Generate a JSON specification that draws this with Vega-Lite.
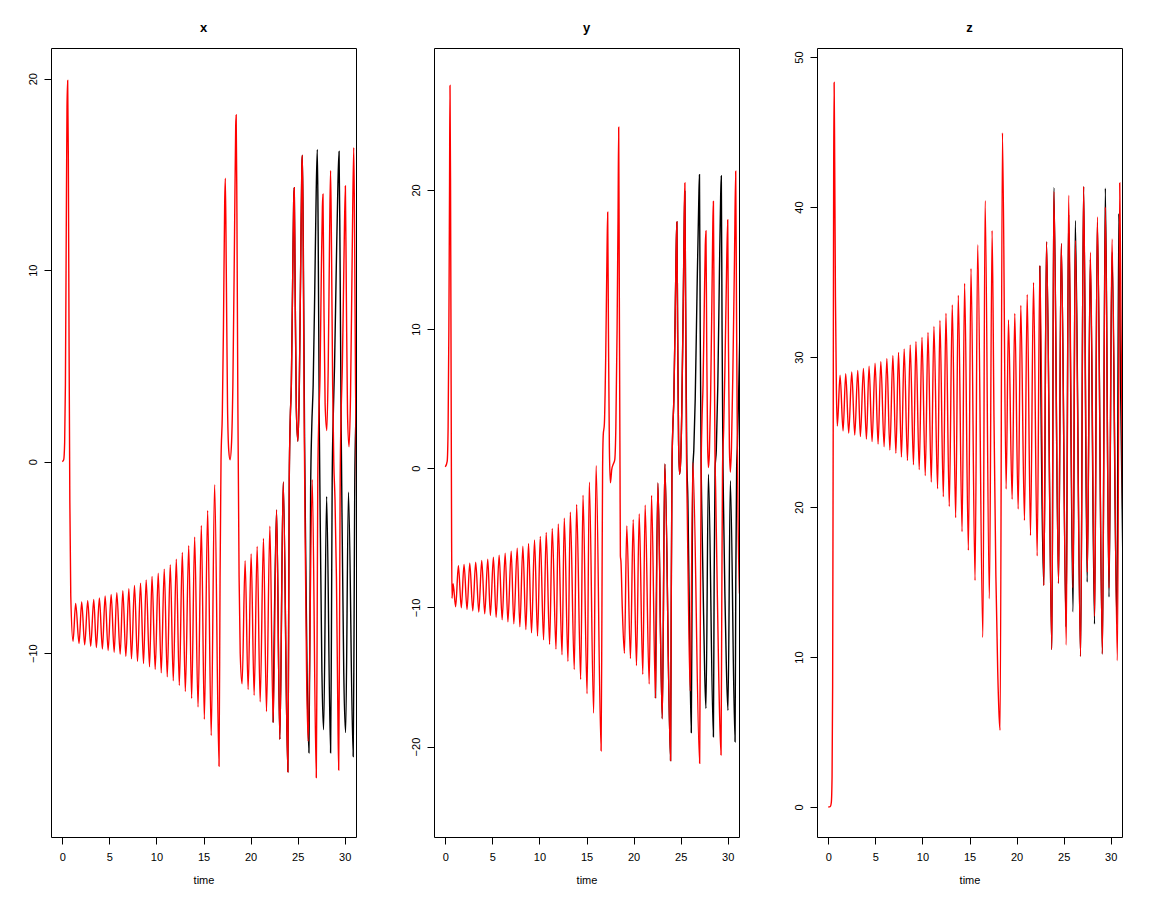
{
"$schema":"https://vega.github.io/schema/vega-lite/v6.json",
"background":"white",
"padding":{"left":26,"top":21,"right":5,"bottom":5},
"spacing":78,
"bounds":"flush",
"config":{
 "view":{"stroke":"#000","strokeWidth":1},
 "font":"Liberation Sans",
 "axis":{"domain":false,"grid":false,"ticks":true,"tickColor":"#000","tickSize":7,"labelColor":"#000","labelFontSize":11,"labelPadding":6,"titleFontWeight":"normal","titleFontSize":11,"titleColor":"#000","labelFlush":false},
 "title":{"fontSize":13,"fontWeight":"bold","color":"#000","offset":13,"anchor":"middle"}
},
"datasets":{
"x":[
{"t":0,"v":0,"s":"r"},{"t":0.15,"v":0.1,"s":"r"},{"t":0.25,"v":1,"s":"r"},{"t":0.33,"v":4,"s":"r"},{"t":0.42,"v":12,"s":"r"},{"t":0.5,"v":18.5,"s":"r"},{"t":0.57,"v":19.9,"s":"r"},{"t":0.64,"v":16,"s":"r"},{"t":0.72,"v":6,"s":"r"},{"t":0.8,"v":-2,"s":"r"},{"t":0.9,"v":-7,"s":"r"},
{"t":1.14,"v":-9.38,"s":"r"},{"t":1.42,"v":-7.41,"s":"r"},{"t":1.78,"v":-9.5,"s":"r"},{"t":2.06,"v":-7.33,"s":"r"},{"t":2.38,"v":-9.57,"s":"r"},{"t":2.7,"v":-7.26,"s":"r"},{"t":3.02,"v":-9.64,"s":"r"},{"t":3.34,"v":-7.19,"s":"r"},{"t":3.62,"v":-9.71,"s":"r"},{"t":3.94,"v":-7.12,"s":"r"},{"t":4.26,"v":-9.79,"s":"r"},{"t":4.55,"v":-7.01,"s":"r"},{"t":4.87,"v":-9.86,"s":"r"},{"t":5.19,"v":-6.94,"s":"r"},{"t":5.51,"v":-9.95,"s":"r"},{"t":5.79,"v":-6.84,"s":"r"},{"t":6.15,"v":-10.05,"s":"r"},{"t":6.43,"v":-6.74,"s":"r"},{"t":6.75,"v":-10.17,"s":"r"},{"t":7.07,"v":-6.63,"s":"r"},{"t":7.35,"v":-10.3,"s":"r"},{"t":7.67,"v":-6.47,"s":"r"},{"t":7.99,"v":-10.43,"s":"r"},{"t":8.31,"v":-6.35,"s":"r"},{"t":8.63,"v":-10.54,"s":"r"},{"t":8.91,"v":-6.18,"s":"r"},{"t":9.27,"v":-10.71,"s":"r"},{"t":9.53,"v":-5.99,"s":"r"},{"t":9.87,"v":-10.85,"s":"r"},{"t":10.19,"v":-5.82,"s":"r"},{"t":10.51,"v":-11.02,"s":"r"},{"t":10.83,"v":-5.61,"s":"r"},{"t":11.15,"v":-11.23,"s":"r"},{"t":11.47,"v":-5.38,"s":"r"},{"t":11.79,"v":-11.44,"s":"r"},{"t":12.11,"v":-5.1,"s":"r"},{"t":12.43,"v":-11.68,"s":"r"},{"t":12.75,"v":-4.74,"s":"r"},{"t":13.07,"v":-12,"s":"r"},{"t":13.43,"v":-4.39,"s":"r"},{"t":13.74,"v":-12.36,"s":"r"},{"t":14.06,"v":-3.94,"s":"r"},{"t":14.42,"v":-12.81,"s":"r"},{"t":14.77,"v":-3.33,"s":"r"},{"t":15.09,"v":-13.45,"s":"r"},{"t":15.44,"v":-2.55,"s":"r"},{"t":15.82,"v":-14.3,"s":"r"},{"t":16.18,"v":-1.2,"s":"r"},{"t":16.65,"v":-15.9,"s":"r"},
{"t":16.76,"v":-6,"s":"r"},{"t":16.86,"v":0,"s":"r"},{"t":17.0,"v":2.5,"s":"r"},{"t":17.12,"v":7,"s":"r"},{"t":17.25,"v":13.5,"s":"r"},{"t":17.32,"v":14.8,"s":"r"},{"t":17.42,"v":10,"s":"r"},{"t":17.55,"v":3,"s":"r"},{"t":17.68,"v":0.6,"s":"r"},{"t":17.82,"v":0.1,"s":"r"},{"t":17.98,"v":1,"s":"r"},{"t":18.12,"v":4,"s":"r"},{"t":18.3,"v":12,"s":"r"},{"t":18.42,"v":17.5,"s":"r"},{"t":18.47,"v":18.1,"s":"r"},{"t":18.55,"v":13,"s":"r"},{"t":18.65,"v":3,"s":"r"},{"t":18.78,"v":-6,"s":"r"},{"t":18.9,"v":-10,"s":"r"},
{"t":19.1,"v":-11.6,"s":"r"},{"t":19.42,"v":-5.17,"s":"r"},{"t":19.74,"v":-11.9,"s":"r"},{"t":20.06,"v":-4.82,"s":"r"},{"t":20.38,"v":-12.2,"s":"r"},{"t":20.7,"v":-4.43,"s":"r"},{"t":21.02,"v":-12.54,"s":"r"},{"t":21.37,"v":-4.01,"s":"r"},{"t":21.69,"v":-13.05,"s":"r"},{"t":22.05,"v":-3.37,"s":"r"},{"t":22.4,"v":-13.62,"s":"r"},{"t":22.76,"v":-2.52,"s":"r"},{"t":23.11,"v":-14.5,"s":"r"},{"t":23.47,"v":-1.06,"s":"r"},{"t":23.96,"v":-16.2,"s":"r"},
{"t":24.04,"v":-9,"s":"r"},{"t":24.11,"v":-1,"s":"r"},{"t":24.22,"v":2.3,"s":"r"},{"t":24.33,"v":4,"s":"r"},{"t":24.46,"v":9,"s":"r"},{"t":24.58,"v":13.6,"s":"r"},{"t":24.64,"v":14.3,"s":"r"},{"t":24.72,"v":10,"s":"r"},{"t":24.86,"v":2.8,"s":"r"},{"t":25.03,"v":1.06,"s":"r"},{"t":25.18,"v":4,"s":"r"},{"t":25.33,"v":10.5,"s":"r"},{"t":25.45,"v":15.5,"s":"r"},{"t":25.5,"v":16,"s":"r"},
{"t":25.58,"v":12,"s":"r"},{"t":25.7,"v":2,"s":"r"},{"t":25.8,"v":-4,"s":"r"},{"t":25.95,"v":-11,"s":"r"},{"t":26.12,"v":-14.6,"s":"r"},{"t":26.55,"v":-0.94,"s":"r"},{"t":26.98,"v":-16.5,"s":"r"},{"t":27.07,"v":-9,"s":"r"},{"t":27.14,"v":-1,"s":"r"},{"t":27.25,"v":2.3,"s":"r"},{"t":27.38,"v":4.5,"s":"r"},{"t":27.52,"v":10,"s":"r"},{"t":27.63,"v":13.3,"s":"r"},{"t":27.69,"v":13.96,"s":"r"},{"t":27.78,"v":9,"s":"r"},{"t":27.92,"v":3,"s":"r"},{"t":28.1,"v":1.63,"s":"r"},{"t":28.25,"v":5,"s":"r"},{"t":28.4,"v":12,"s":"r"},{"t":28.5,"v":15.2,"s":"r"},{"t":28.6,"v":11,"s":"r"},{"t":28.72,"v":4,"s":"r"},{"t":28.84,"v":0,"s":"r"},{"t":28.97,"v":-2,"s":"r"},{"t":29.12,"v":-6,"s":"r"},{"t":29.26,"v":-12.5,"s":"r"},{"t":29.36,"v":-16.1,"s":"r"},{"t":29.45,"v":-9,"s":"r"},{"t":29.52,"v":-1,"s":"r"},{"t":29.62,"v":2.5,"s":"r"},{"t":29.75,"v":5,"s":"r"},{"t":29.92,"v":10.5,"s":"r"},{"t":30.07,"v":14.4,"s":"r"},{"t":30.17,"v":9,"s":"r"},{"t":30.3,"v":2.5,"s":"r"},{"t":30.46,"v":0.78,"s":"r"},{"t":30.62,"v":3.5,"s":"r"},{"t":30.8,"v":11,"s":"r"},{"t":30.96,"v":16.4,"s":"r"},{"t":31.05,"v":12,"s":"r"},{"t":31.15,"v":4,"s":"r"},{"t":31.3,"v":-3,"s":"r"},
{"t":22.4,"v":-13.62,"s":"b"},{"t":22.76,"v":-2.52,"s":"b"},{"t":23.11,"v":-14.5,"s":"b"},{"t":23.47,"v":-1.06,"s":"b"},{"t":23.96,"v":-16.2,"s":"b"},{"t":24.04,"v":-9,"s":"b"},{"t":24.11,"v":-1,"s":"b"},{"t":24.22,"v":2.3,"s":"b"},{"t":24.33,"v":4,"s":"b"},{"t":24.46,"v":9,"s":"b"},{"t":24.58,"v":13.6,"s":"b"},{"t":24.64,"v":14.3,"s":"b"},{"t":24.72,"v":10,"s":"b"},{"t":24.86,"v":2.8,"s":"b"},{"t":25.03,"v":1.06,"s":"b"},{"t":25.18,"v":4,"s":"b"},{"t":25.33,"v":10.5,"s":"b"},{"t":25.45,"v":15.5,"s":"b"},{"t":25.5,"v":16,"s":"b"},{"t":25.6,"v":11.5,"s":"b"},{"t":25.74,"v":1,"s":"b"},{"t":25.84,"v":-4,"s":"b"},{"t":26.0,"v":-11,"s":"b"},{"t":26.2,"v":-15.2,"s":"b"},{"t":26.3,"v":-9,"s":"b"},{"t":26.38,"v":-1.5,"s":"b"},{"t":26.5,"v":1.8,"s":"b"},{"t":26.65,"v":4,"s":"b"},{"t":26.82,"v":9,"s":"b"},{"t":26.97,"v":14,"s":"b"},{"t":27.09,"v":16.3,"s":"b"},{"t":27.18,"v":12,"s":"b"},{"t":27.3,"v":2,"s":"b"},{"t":27.42,"v":-4,"s":"b"},{"t":27.58,"v":-11,"s":"b"},{"t":27.76,"v":-14,"s":"b"},{"t":28.08,"v":-1.82,"s":"b"},{"t":28.5,"v":-15.2,"s":"b"},{"t":28.59,"v":-9,"s":"b"},{"t":28.67,"v":-1,"s":"b"},{"t":28.78,"v":2.3,"s":"b"},{"t":28.92,"v":5,"s":"b"},{"t":29.1,"v":10,"s":"b"},{"t":29.28,"v":14.5,"s":"b"},{"t":29.4,"v":16.2,"s":"b"},{"t":29.5,"v":11,"s":"b"},{"t":29.62,"v":2,"s":"b"},{"t":29.74,"v":-4,"s":"b"},{"t":29.9,"v":-11,"s":"b"},{"t":30.1,"v":-14.15,"s":"b"},{"t":30.4,"v":-1.6,"s":"b"},{"t":30.9,"v":-15.4,"s":"b"},{"t":30.99,"v":-9,"s":"b"},{"t":31.07,"v":-1,"s":"b"},{"t":31.2,"v":2.5,"s":"b"},{"t":31.35,"v":5,"s":"b"}
],
"y":[
{"t":0,"v":0.1,"s":"r"},{"t":0.2,"v":0.5,"s":"r"},{"t":0.3,"v":3,"s":"r"},{"t":0.38,"v":10,"s":"r"},{"t":0.45,"v":20,"s":"r"},{"t":0.5,"v":27.5,"s":"r"},{"t":0.56,"v":20,"s":"r"},{"t":0.62,"v":6,"s":"r"},{"t":0.67,"v":-5,"s":"r"},{"t":0.71,"v":-9.35,"s":"r"},{"t":0.83,"v":-8.3,"s":"r"},
{"t":1.1,"v":-9.96,"s":"r"},{"t":1.39,"v":-7.01,"s":"r"},{"t":1.7,"v":-10.03,"s":"r"},{"t":1.99,"v":-6.92,"s":"r"},{"t":2.31,"v":-10.15,"s":"r"},{"t":2.6,"v":-6.82,"s":"r"},{"t":2.92,"v":-10.25,"s":"r"},{"t":3.23,"v":-6.75,"s":"r"},{"t":3.56,"v":-10.34,"s":"r"},{"t":3.87,"v":-6.63,"s":"r"},{"t":4.19,"v":-10.46,"s":"r"},{"t":4.51,"v":-6.54,"s":"r"},{"t":4.79,"v":-10.58,"s":"r"},{"t":5.11,"v":-6.39,"s":"r"},{"t":5.4,"v":-10.72,"s":"r"},{"t":5.72,"v":-6.25,"s":"r"},{"t":6.04,"v":-10.89,"s":"r"},{"t":6.36,"v":-6.1,"s":"r"},{"t":6.65,"v":-11.04,"s":"r"},{"t":7.0,"v":-5.96,"s":"r"},{"t":7.28,"v":-11.18,"s":"r"},{"t":7.64,"v":-5.75,"s":"r"},{"t":7.92,"v":-11.4,"s":"r"},{"t":8.24,"v":-5.6,"s":"r"},{"t":8.56,"v":-11.59,"s":"r"},{"t":8.84,"v":-5.41,"s":"r"},{"t":9.16,"v":-11.83,"s":"r"},{"t":9.48,"v":-5.15,"s":"r"},{"t":9.8,"v":-12.06,"s":"r"},{"t":10.09,"v":-4.91,"s":"r"},{"t":10.44,"v":-12.33,"s":"r"},{"t":10.72,"v":-4.62,"s":"r"},{"t":11.08,"v":-12.66,"s":"r"},{"t":11.36,"v":-4.33,"s":"r"},{"t":11.76,"v":-13,"s":"r"},{"t":12.0,"v":-4,"s":"r"},{"t":12.4,"v":-13.4,"s":"r"},{"t":12.64,"v":-3.59,"s":"r"},{"t":13.03,"v":-13.88,"s":"r"},{"t":13.28,"v":-3.16,"s":"r"},{"t":13.7,"v":-14.46,"s":"r"},{"t":13.95,"v":-2.61,"s":"r"},{"t":14.38,"v":-15.17,"s":"r"},{"t":14.63,"v":-1.94,"s":"r"},{"t":15.06,"v":-16.2,"s":"r"},{"t":15.3,"v":-1,"s":"r"},{"t":15.76,"v":-17.6,"s":"r"},{"t":16.02,"v":0.2,"s":"r"},{"t":16.55,"v":-20.3,"s":"r"},
{"t":16.64,"v":-10,"s":"r"},{"t":16.71,"v":0,"s":"r"},{"t":16.78,"v":2.4,"s":"r"},{"t":16.9,"v":3.2,"s":"r"},{"t":17.04,"v":8,"s":"r"},{"t":17.17,"v":15,"s":"r"},{"t":17.25,"v":18.4,"s":"r"},{"t":17.33,"v":10,"s":"r"},{"t":17.43,"v":1.5,"s":"r"},{"t":17.54,"v":-1.05,"s":"r"},{"t":17.68,"v":-0.1,"s":"r"},{"t":17.85,"v":0.3,"s":"r"},{"t":18.0,"v":0.6,"s":"r"},{"t":18.12,"v":3,"s":"r"},{"t":18.25,"v":10,"s":"r"},{"t":18.35,"v":18,"s":"r"},{"t":18.42,"v":24.5,"s":"r"},{"t":18.49,"v":12,"s":"r"},{"t":18.56,"v":0,"s":"r"},{"t":18.6,"v":-6.3,"s":"r"},{"t":18.66,"v":-6.7,"s":"r"},{"t":18.8,"v":-10,"s":"r"},
{"t":19.03,"v":-13.3,"s":"r"},{"t":19.28,"v":-4.14,"s":"r"},{"t":19.67,"v":-13.67,"s":"r"},{"t":19.96,"v":-3.7,"s":"r"},{"t":20.31,"v":-14.18,"s":"r"},{"t":20.6,"v":-3.28,"s":"r"},{"t":20.98,"v":-14.81,"s":"r"},{"t":21.23,"v":-2.65,"s":"r"},{"t":21.66,"v":-15.5,"s":"r"},{"t":21.91,"v":-1.95,"s":"r"},{"t":22.33,"v":-16.52,"s":"r"},{"t":22.58,"v":-1.05,"s":"r"},{"t":23.05,"v":-18,"s":"r"},{"t":23.32,"v":0.31,"s":"r"},{"t":23.93,"v":-21,"s":"r"},
{"t":24.0,"v":-10,"s":"r"},{"t":24.08,"v":0,"s":"r"},{"t":24.17,"v":2.9,"s":"r"},{"t":24.28,"v":5,"s":"r"},{"t":24.4,"v":10,"s":"r"},{"t":24.52,"v":15.5,"s":"r"},{"t":24.6,"v":17.7,"s":"r"},{"t":24.68,"v":10,"s":"r"},{"t":24.78,"v":2,"s":"r"},{"t":24.89,"v":-0.43,"s":"r"},{"t":25.0,"v":0.5,"s":"r"},{"t":25.12,"v":4,"s":"r"},{"t":25.28,"v":12,"s":"r"},{"t":25.38,"v":18,"s":"r"},{"t":25.45,"v":20.5,"s":"r"},
{"t":25.52,"v":12,"s":"r"},{"t":25.62,"v":1,"s":"r"},{"t":25.7,"v":-2.94,"s":"r"},{"t":25.82,"v":-9,"s":"r"},{"t":26.02,"v":-16,"s":"r"},{"t":26.3,"v":0.4,"s":"r"},{"t":27.02,"v":-21.2,"s":"r"},{"t":27.1,"v":-10,"s":"r"},{"t":27.18,"v":0,"s":"r"},{"t":27.26,"v":3.23,"s":"r"},{"t":27.38,"v":6,"s":"r"},{"t":27.52,"v":12,"s":"r"},{"t":27.62,"v":16,"s":"r"},{"t":27.69,"v":17.06,"s":"r"},{"t":27.77,"v":9,"s":"r"},{"t":27.86,"v":2,"s":"r"},{"t":27.95,"v":0.05,"s":"r"},{"t":28.05,"v":1,"s":"r"},{"t":28.18,"v":5,"s":"r"},{"t":28.32,"v":12,"s":"r"},{"t":28.42,"v":17.5,"s":"r"},{"t":28.48,"v":19.18,"s":"r"},{"t":28.56,"v":10,"s":"r"},{"t":28.65,"v":1,"s":"r"},{"t":28.72,"v":-1.54,"s":"r"},{"t":28.85,"v":-7,"s":"r"},{"t":29.05,"v":-15,"s":"r"},{"t":29.29,"v":-20.6,"s":"r"},{"t":29.37,"v":-10,"s":"r"},{"t":29.45,"v":0,"s":"r"},{"t":29.57,"v":2.76,"s":"r"},{"t":29.7,"v":7,"s":"r"},{"t":29.85,"v":13,"s":"r"},{"t":30.0,"v":17.85,"s":"r"},{"t":30.08,"v":9,"s":"r"},{"t":30.18,"v":1.5,"s":"r"},{"t":30.28,"v":-0.27,"s":"r"},{"t":30.4,"v":1.5,"s":"r"},{"t":30.55,"v":7,"s":"r"},{"t":30.72,"v":15,"s":"r"},{"t":30.85,"v":21.34,"s":"r"},{"t":30.93,"v":12,"s":"r"},{"t":31.02,"v":2,"s":"r"},{"t":31.1,"v":-3.6,"s":"r"},{"t":31.25,"v":-9,"s":"r"},
{"t":22.33,"v":-16.52,"s":"b"},{"t":22.58,"v":-1.05,"s":"b"},{"t":23.05,"v":-18,"s":"b"},{"t":23.32,"v":0.31,"s":"b"},{"t":23.93,"v":-21,"s":"b"},{"t":24.0,"v":-10,"s":"b"},{"t":24.08,"v":0,"s":"b"},{"t":24.17,"v":2.9,"s":"b"},{"t":24.28,"v":5,"s":"b"},{"t":24.4,"v":10,"s":"b"},{"t":24.52,"v":15.5,"s":"b"},{"t":24.6,"v":17.7,"s":"b"},{"t":24.68,"v":10,"s":"b"},{"t":24.78,"v":2,"s":"b"},{"t":24.89,"v":-0.43,"s":"b"},{"t":25.0,"v":0.5,"s":"b"},{"t":25.12,"v":4,"s":"b"},{"t":25.28,"v":12,"s":"b"},{"t":25.38,"v":17.5,"s":"b"},{"t":25.45,"v":19.9,"s":"b"},{"t":25.53,"v":12,"s":"b"},{"t":25.65,"v":1,"s":"b"},{"t":25.77,"v":-2.3,"s":"b"},{"t":25.9,"v":-9,"s":"b"},{"t":26.13,"v":-19,"s":"b"},{"t":26.22,"v":-8,"s":"b"},{"t":26.3,"v":0,"s":"b"},{"t":26.4,"v":1.32,"s":"b"},{"t":26.55,"v":5,"s":"b"},{"t":26.75,"v":13,"s":"b"},{"t":26.92,"v":19,"s":"b"},{"t":27.0,"v":21.1,"s":"b"},{"t":27.08,"v":10,"s":"b"},{"t":27.18,"v":0,"s":"b"},{"t":27.26,"v":-3.45,"s":"b"},{"t":27.4,"v":-9,"s":"b"},{"t":27.55,"v":-14.5,"s":"b"},{"t":27.69,"v":-17.26,"s":"b"},{"t":27.95,"v":-0.43,"s":"b"},{"t":28.48,"v":-19.3,"s":"b"},{"t":28.56,"v":-8,"s":"b"},{"t":28.66,"v":0,"s":"b"},{"t":28.79,"v":1.32,"s":"b"},{"t":28.95,"v":6,"s":"b"},{"t":29.12,"v":14,"s":"b"},{"t":29.25,"v":19.5,"s":"b"},{"t":29.32,"v":21,"s":"b"},{"t":29.4,"v":10,"s":"b"},{"t":29.5,"v":0,"s":"b"},{"t":29.57,"v":-3.28,"s":"b"},{"t":29.7,"v":-9,"s":"b"},{"t":29.85,"v":-14,"s":"b"},{"t":30.03,"v":-17.4,"s":"b"},{"t":30.28,"v":-0.9,"s":"b"},{"t":30.78,"v":-19.65,"s":"b"},{"t":30.86,"v":-8,"s":"b"},{"t":30.95,"v":0,"s":"b"},{"t":31.03,"v":1.65,"s":"b"},{"t":31.15,"v":5,"s":"b"},{"t":31.3,"v":10,"s":"b"}
],
"z":[
{"t":0,"v":0,"s":"r"},{"t":0.2,"v":0.02,"s":"r"},{"t":0.32,"v":0.3,"s":"r"},{"t":0.4,"v":2,"s":"r"},{"t":0.46,"v":8,"s":"r"},{"t":0.52,"v":25,"s":"r"},{"t":0.57,"v":42,"s":"r"},{"t":0.62,"v":48.3,"s":"r"},{"t":0.68,"v":43,"s":"r"},{"t":0.76,"v":34,"s":"r"},{"t":0.86,"v":27.8,"s":"r"},{"t":0.96,"v":25.4,"s":"r"},
{"t":1.25,"v":28.78,"s":"r"},{"t":1.57,"v":25.07,"s":"r"},{"t":1.85,"v":28.89,"s":"r"},{"t":2.17,"v":24.93,"s":"r"},{"t":2.49,"v":29,"s":"r"},{"t":2.81,"v":24.8,"s":"r"},{"t":3.13,"v":29.11,"s":"r"},{"t":3.41,"v":24.69,"s":"r"},{"t":3.73,"v":29.24,"s":"r"},{"t":4.05,"v":24.53,"s":"r"},{"t":4.33,"v":29.38,"s":"r"},{"t":4.65,"v":24.36,"s":"r"},{"t":4.97,"v":29.58,"s":"r"},{"t":5.29,"v":24.2,"s":"r"},{"t":5.58,"v":29.71,"s":"r"},{"t":5.93,"v":24.02,"s":"r"},{"t":6.22,"v":29.91,"s":"r"},{"t":6.54,"v":23.8,"s":"r"},{"t":6.86,"v":30.11,"s":"r"},{"t":7.18,"v":23.58,"s":"r"},{"t":7.46,"v":30.31,"s":"r"},{"t":7.77,"v":23.33,"s":"r"},{"t":8.06,"v":30.53,"s":"r"},{"t":8.41,"v":23.09,"s":"r"},{"t":8.7,"v":30.8,"s":"r"},{"t":9.05,"v":22.82,"s":"r"},{"t":9.31,"v":31.04,"s":"r"},{"t":9.66,"v":22.49,"s":"r"},{"t":9.95,"v":31.31,"s":"r"},{"t":10.3,"v":22.09,"s":"r"},{"t":10.59,"v":31.64,"s":"r"},{"t":10.94,"v":21.67,"s":"r"},{"t":11.22,"v":32.04,"s":"r"},{"t":11.61,"v":21.22,"s":"r"},{"t":11.86,"v":32.44,"s":"r"},{"t":12.22,"v":20.69,"s":"r"},{"t":12.5,"v":32.91,"s":"r"},{"t":12.85,"v":20.04,"s":"r"},{"t":13.17,"v":33.47,"s":"r"},{"t":13.53,"v":19.29,"s":"r"},{"t":13.81,"v":34.11,"s":"r"},{"t":14.21,"v":18.36,"s":"r"},{"t":14.48,"v":34.91,"s":"r"},{"t":14.88,"v":17.11,"s":"r"},{"t":15.16,"v":35.9,"s":"r"},{"t":15.59,"v":15.1,"s":"r"},{"t":15.87,"v":37.48,"s":"r"},{"t":16.42,"v":11.3,"s":"r"},{"t":16.66,"v":40.43,"s":"r"},{"t":17.11,"v":13.88,"s":"r"},{"t":17.4,"v":38.43,"s":"r"},{"t":17.6,"v":26,"s":"r"},{"t":17.8,"v":15.5,"s":"r"},{"t":18.0,"v":9,"s":"r"},{"t":18.15,"v":6,"s":"r"},{"t":18.25,"v":5.12,"s":"r"},{"t":18.5,"v":44.94,"s":"r"},{"t":18.89,"v":21.2,"s":"r"},{"t":19.14,"v":32.47,"s":"r"},{"t":19.53,"v":20.52,"s":"r"},{"t":19.81,"v":32.9,"s":"r"},{"t":20.17,"v":19.87,"s":"r"},{"t":20.45,"v":33.44,"s":"r"},{"t":20.84,"v":19.1,"s":"r"},{"t":21.13,"v":34.17,"s":"r"},{"t":21.48,"v":18.1,"s":"r"},{"t":21.8,"v":34.97,"s":"r"},{"t":22.19,"v":16.74,"s":"r"},{"t":22.47,"v":36.09,"s":"r"},{"t":22.9,"v":14.77,"s":"r"},{"t":23.18,"v":37.69,"s":"r"},{"t":23.75,"v":10.49,"s":"r"},{"t":23.96,"v":41.02,"s":"r"},{"t":24.46,"v":14.91,"s":"r"},{"t":24.75,"v":37.57,"s":"r"},{"t":25.28,"v":10.8,"s":"r"},{"t":25.53,"v":40.79,"s":"r"},{"t":26.0,"v":14.6,"s":"r"},{"t":26.24,"v":37.77,"s":"r"},{"t":26.8,"v":10.04,"s":"r"},{"t":27.12,"v":41.37,"s":"r"},{"t":27.52,"v":15.65,"s":"r"},{"t":27.84,"v":36.98,"s":"r"},{"t":28.3,"v":12.7,"s":"r"},{"t":28.58,"v":39.34,"s":"r"},{"t":29.12,"v":10.2,"s":"r"},{"t":29.43,"v":40,"s":"r"},{"t":29.82,"v":14.6,"s":"r"},{"t":30.14,"v":37.87,"s":"r"},{"t":30.71,"v":9.75,"s":"r"},{"t":30.96,"v":41.6,"s":"r"},{"t":31.1,"v":32,"s":"r"},{"t":31.3,"v":18,"s":"r"},
{"t":22.47,"v":36.09,"s":"b"},{"t":22.9,"v":14.77,"s":"b"},{"t":23.18,"v":37.69,"s":"b"},{"t":23.75,"v":10.49,"s":"b"},{"t":23.96,"v":41.3,"s":"b"},{"t":24.46,"v":14.91,"s":"b"},{"t":24.75,"v":37.57,"s":"b"},{"t":25.26,"v":12,"s":"b"},{"t":25.53,"v":39.5,"s":"b"},{"t":26.0,"v":13,"s":"b"},{"t":26.24,"v":39.1,"s":"b"},{"t":26.8,"v":10.04,"s":"b"},{"t":27.12,"v":41.37,"s":"b"},{"t":27.5,"v":15,"s":"b"},{"t":27.84,"v":36.5,"s":"b"},{"t":28.28,"v":12.2,"s":"b"},{"t":28.58,"v":39,"s":"b"},{"t":29.12,"v":10.2,"s":"b"},{"t":29.43,"v":41.25,"s":"b"},{"t":29.82,"v":14,"s":"b"},{"t":30.14,"v":37,"s":"b"},{"t":30.66,"v":12.2,"s":"b"},{"t":30.86,"v":39.55,"s":"b"},{"t":31.05,"v":28,"s":"b"},{"t":31.3,"v":16,"s":"b"}
]
},
"hconcat":[
{"width":305,"height":789,"title":"x","data":{"name":"x"},
 "encoding":{
  "x":{"field":"t","type":"quantitative","scale":{"domain":[-1.2,31.2],"nice":false,"zero":false},"axis":{"values":[0,5,10,15,20,25,30],"title":"time","labelPadding":7,"titlePadding":12}},
  "y":{"field":"v","type":"quantitative","scale":{"domain":[-19.6,21.6],"nice":false,"zero":false},"axis":{"values":[-10,0,10,20],"title":null,"labelAngle":-90,"labelAlign":"center","labelBaseline":"bottom"}}},
 "layer":[
  {"transform":[{"filter":"datum.s == 'b'"}],"mark":{"type":"line","color":"#000000","strokeWidth":1.4,"interpolate":"monotone","clip":true}},
  {"transform":[{"filter":"datum.s == 'r'"}],"mark":{"type":"line","color":"#ff0000","strokeWidth":1.4,"interpolate":"monotone","clip":true}}]},
{"width":305,"height":789,"title":"y","data":{"name":"y"},
 "encoding":{
  "x":{"field":"t","type":"quantitative","scale":{"domain":[-1.2,31.2],"nice":false,"zero":false},"axis":{"values":[0,5,10,15,20,25,30],"title":"time","labelPadding":7,"titlePadding":12}},
  "y":{"field":"v","type":"quantitative","scale":{"domain":[-26.5,30.2],"nice":false,"zero":false},"axis":{"values":[-20,-10,0,10,20],"title":null,"labelAngle":-90,"labelAlign":"center","labelBaseline":"bottom"}}},
 "layer":[
  {"transform":[{"filter":"datum.s == 'b'"}],"mark":{"type":"line","color":"#000000","strokeWidth":1.4,"interpolate":"monotone","clip":true}},
  {"transform":[{"filter":"datum.s == 'r'"}],"mark":{"type":"line","color":"#ff0000","strokeWidth":1.4,"interpolate":"monotone","clip":true}}]},
{"width":305,"height":789,"title":"z","data":{"name":"z"},
 "encoding":{
  "x":{"field":"t","type":"quantitative","scale":{"domain":[-1.2,31.2],"nice":false,"zero":false},"axis":{"values":[0,5,10,15,20,25,30],"title":"time","labelPadding":7,"titlePadding":12}},
  "y":{"field":"v","type":"quantitative","scale":{"domain":[-2,50.6],"nice":false,"zero":false},"axis":{"values":[0,10,20,30,40,50],"title":null,"labelAngle":-90,"labelAlign":"center","labelBaseline":"bottom"}}},
 "layer":[
  {"transform":[{"filter":"datum.s == 'b'"}],"mark":{"type":"line","color":"#000000","strokeWidth":1.4,"interpolate":"monotone","clip":true}},
  {"transform":[{"filter":"datum.s == 'r'"}],"mark":{"type":"line","color":"#ff0000","strokeWidth":1.4,"interpolate":"monotone","clip":true}}]}
]
}
